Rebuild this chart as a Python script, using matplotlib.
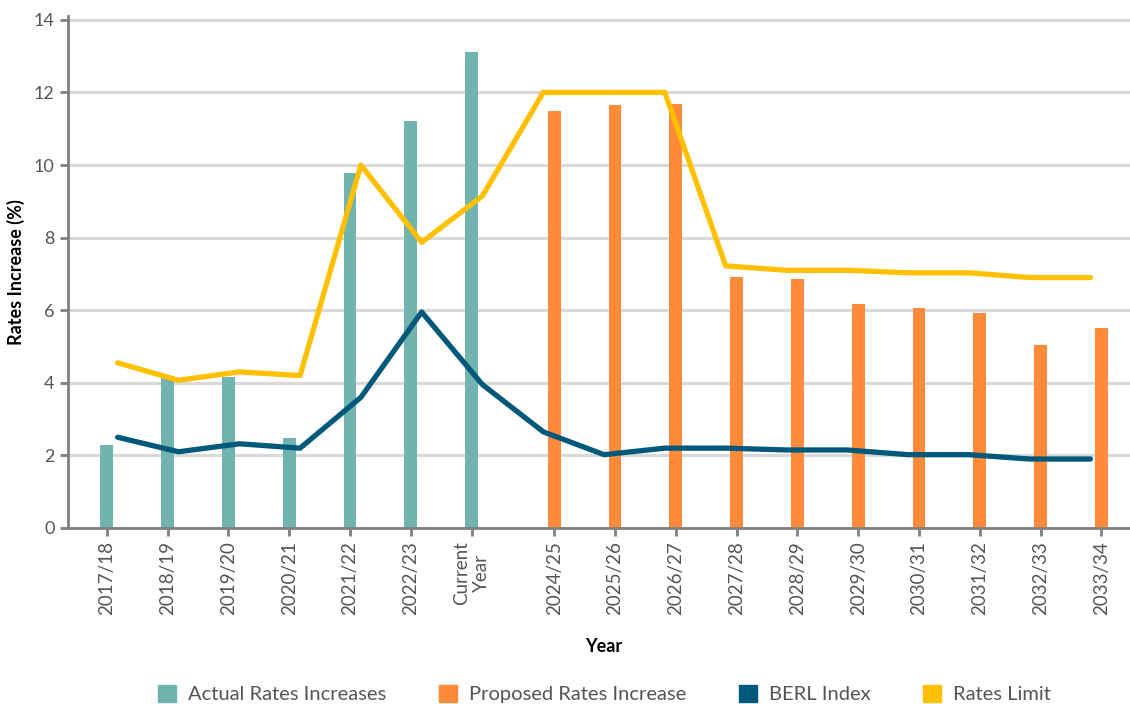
"""Rates increase chart: actual vs proposed rates, BERL index and rates limit."""

import numpy as np
import matplotlib
matplotlib.use("Agg")
import matplotlib.pyplot as plt
from matplotlib.patches import Patch

plt.rcParams["font.family"] = ["Lato", "DejaVu Sans"]

years = ["2017/18", "2018/19", "2019/20", "2020/21", "2021/22", "2022/23",
         "Current\nYear", "2024/25", "2025/26", "2026/27", "2027/28", "2028/29",
         "2029/30", "2030/31", "2031/32", "2032/33", "2033/34"]
actual = [2.28, 4.2, 4.15, 2.47, 9.77, 11.2, 13.12,
          None, None, None, None, None, None, None, None, None, None]
proposed = [None, None, None, None, None, None, None,
            11.5, 11.64, 11.69, 6.92, 6.86, 6.18, 6.07, 5.93, 5.05, 5.52]
berl = [2.5, 2.1, 2.32, 2.2, 3.6, 5.95, 3.95, 2.65, 2.02, 2.2, 2.2,
        2.15, 2.15, 2.02, 2.02, 1.9, 1.9]
limit = [4.55, 4.07, 4.3, 4.2, 10.0, 7.87, 9.15, 12.0, 12.0, 12.0, 7.22,
         7.1, 7.1, 7.03, 7.03, 6.9, 6.9]

C_ACTUAL = "#71b3af"
C_PROPOSED = "#ff8a3a"
C_BERL = "#00587a"
C_LIMIT = "#ffc000"
GREY = "#808080"
TEXT = "#555555"

x = np.arange(len(years))
off = 0.18
w = 0.21

fig = plt.figure(figsize=(11.3, 7.04), dpi=100)
ax = fig.add_axes([0.060, 0.25, 0.94, 0.727])

ax_x = [i - off for i, v in enumerate(actual) if v is not None]
ax_v = [v for v in actual if v is not None]
pr_x = [i + off for i, v in enumerate(proposed) if v is not None]
pr_v = [v for v in proposed if v is not None]

ax.bar(ax_x, ax_v, width=w, color=C_ACTUAL, zorder=2)
ax.bar(pr_x, pr_v, width=w, color=C_PROPOSED, zorder=2)
ax.plot(x, berl, color=C_BERL, lw=3.8, solid_capstyle="round", zorder=3)
ax.plot(x, limit, color=C_LIMIT, lw=3.8, solid_capstyle="round", zorder=4)

tick_pos = [i - off if actual[i] is not None else i + off for i in range(len(years))]
ax.set_xticks(tick_pos)
ax.set_xticklabels(years, rotation=90, fontsize=13.5, color=TEXT,
                   linespacing=1.25)
ax.set_yticks(range(0, 15, 2))
ax.set_yticklabels([str(v) for v in range(0, 15, 2)], fontsize=13, color=TEXT)
ax.set_xlim(-0.82, 16.65)
ax.set_ylim(0, 14.1)

ax.grid(axis="y", color="#d9d9d9", lw=2.2, zorder=0)
ax.set_axisbelow(True)
for s in ["top", "right"]:
    ax.spines[s].set_visible(False)
for s in ["left", "bottom"]:
    ax.spines[s].set_color(GREY)
    ax.spines[s].set_linewidth(2)
ax.tick_params(axis="both", colors=GREY, width=2, length=6, labelcolor=TEXT)

ax.set_ylabel("Rates Increase (%)", fontsize=13, fontweight="bold", labelpad=6)
fig.text(0.534, 0.081, "Year", ha="center", va="center", fontsize=13,
         fontweight="bold")

handles = [Patch(color=C_ACTUAL, label="Actual Rates Increases"),
           Patch(color=C_PROPOSED, label="Proposed Rates Increase"),
           Patch(color=C_BERL, label="BERL Index"),
           Patch(color=C_LIMIT, label="Rates Limit")]
leg = fig.legend(handles=handles, loc="center", bbox_to_anchor=(0.535, 0.014),
                 ncol=4, frameon=False, fontsize=14.5, handlelength=0.9,
                 handleheight=0.9, columnspacing=2.6, handletextpad=0.6)
for t in leg.get_texts():
    t.set_color(TEXT)

fig.savefig("out.png", dpi=100)
